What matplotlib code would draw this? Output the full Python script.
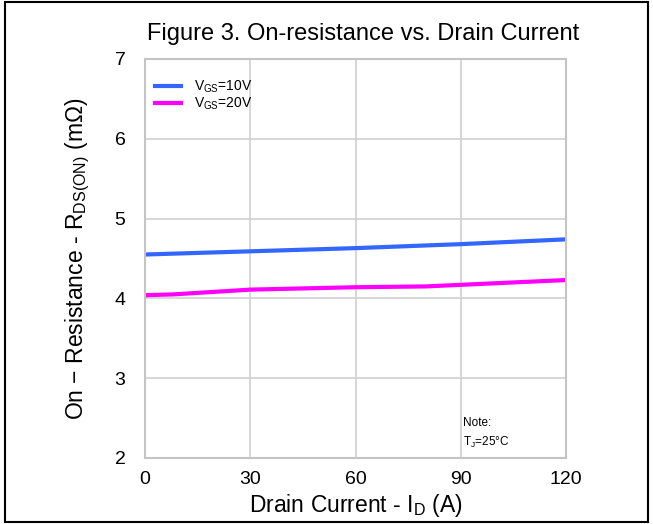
import matplotlib
matplotlib.use("Agg")
import matplotlib.pyplot as plt
from matplotlib.patches import Rectangle

plt.rcParams['font.family'] = ['Liberation Sans', 'DejaVu Sans']
plt.rcParams['mathtext.fontset'] = 'custom'
plt.rcParams['mathtext.rm'] = 'Liberation Sans'

# data
id_10v = [0, 30, 60, 90, 120]
rds_10v = [4.55, 4.59, 4.63, 4.68, 4.74]
id_20v = [0, 8, 30, 60, 80, 90, 120]
rds_20v = [4.04, 4.05, 4.11, 4.14, 4.15, 4.17, 4.23]

x_ticks = [0, 30, 60, 90, 120]
y_ticks = [2, 3, 4, 5, 6, 7]

fig = plt.figure(figsize=(6.53, 5.24), dpi=100)
ax = fig.add_axes([145/653, 1 - 458/524, 421/653, 399/524])

ax.plot(id_10v, rds_10v, color='#3366ff', lw=3, label=r'V$_{\mathregular{GS}}$=10V')
ax.plot(id_20v, rds_20v, color='#ff00ff', lw=3, label=r'V$_{\mathregular{GS}}$=20V')

ax.set_xlim(0, 120)
ax.set_ylim(2, 7)
ax.set_xticks(x_ticks)
ax.set_yticks(y_ticks)
ax.grid(True, color='#d0d0d0', lw=1.2)
for s in ax.spines.values():
    s.set_color('#c4c4c4')
    s.set_linewidth(1.5)
ax.tick_params(length=0, labelsize=14, pad=14)
ax.tick_params(axis='x', pad=9)

ax.set_xlabel(r'Drain Current - I$_{\mathregular{D}}$ (A)', fontsize=16.5, labelpad=3)
ax.set_ylabel(r'On $-$ Resistance - R$_{\mathregular{DS(ON)}}$ (m$\mathregular{\Omega}$)', fontsize=16.5, labelpad=16)
ax.set_title('Figure 3. On-resistance vs. Drain Current', fontsize=17, pad=14, x=0.519)

ax.legend(loc='upper left', frameon=False, fontsize=10, handlelength=1.9,
          handletextpad=0.9, labelspacing=0.05, borderaxespad=0.3,
          bbox_to_anchor=(0.0, 0.975))

ax.text(0.755, 0.088, 'Note:', transform=ax.transAxes, fontsize=8.5, va='center')
ax.text(0.755, 0.04, r'T$_{\mathregular{J}}$=25°C', transform=ax.transAxes, fontsize=8.5, va='center')

fig.patches.append(Rectangle((5/653, 2/524), 643/653, 520/524, transform=fig.transFigure,
                             fill=False, edgecolor='black', lw=1.5))

fig.savefig('out.png', dpi=100)
